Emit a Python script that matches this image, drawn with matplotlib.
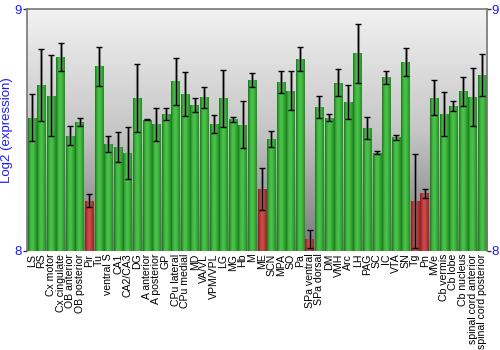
import numpy as np
import matplotlib
matplotlib.use("Agg")
import matplotlib.pyplot as plt
from matplotlib.colors import LinearSegmentedColormap

regions = ["LS", "RS", "Cx motor", "Cx cingulate", "OB anterior", "OB posterior",
           "Pir", "Tu", "ventral S", "CA1", "CA2/CA3", "DG", "A anterior",
           "A posterior", "GP", "CPu lateral", "CPu medial", "MD", "VA/VL",
           "VPM/VPL", "LG", "MG", "Hb", "M", "ME", "SCN", "MPA", "SO", "Pa",
           "SPa ventral", "SPa dorsal", "DM", "VMH", "Arc", "LH", "PAG", "SC",
           "IC", "VTA", "SN", "Tg", "Pn", "MVe", "Cb vermis", "Cb lobe",
           "Cb nucleus", "spinal cord anterior", "spinal cord posterior"]

expression = [8.551, 8.686, 8.642, 8.802, 8.477, 8.534,
              8.207, 8.763, 8.442, 8.430, 8.405, 8.632, 8.543,
              8.523, 8.567, 8.701, 8.649, 8.603, 8.635,
              8.525, 8.631, 8.545, 8.522, 8.707, 8.255, 8.464, 8.698, 8.663, 8.792,
              8.048, 8.594, 8.551, 8.696, 8.616, 8.817, 8.508, 8.406,
              8.718, 8.470, 8.781, 8.207, 8.238, 8.634, 8.566, 8.599,
              8.660, 8.636, 8.727]

std_err = [0.097, 0.150, 0.167, 0.057, 0.040, 0.017,
           0.027, 0.082, 0.033, 0.062, 0.106, 0.140, 0.003,
           0.067, 0.026, 0.097, 0.091, 0.030, 0.042,
           0.036, 0.119, 0.010, 0.096, 0.030, 0.086, 0.034, 0.045, 0.082, 0.050,
           0.037, 0.045, 0.014, 0.057, 0.072, 0.121, 0.046, 0.006,
           0.028, 0.010, 0.058, 0.193, 0.017, 0.072, 0.090, 0.019,
           0.059, 0.119, 0.086]

low_expression = ["Pir", "ME", "SPa ventral", "Tg", "Pn"]

y_min, y_max = 8, 9
blue = "#1a1aff"

plt.rcParams["font.family"] = ["Liberation Sans", "DejaVu Sans"]

fig = plt.figure(figsize=(5, 3.5), dpi=100)
ax = fig.add_axes([0.054, 0.283, 0.920, 0.691])

n = len(regions)
x = np.arange(n)

# vertical grey backdrop, light at top, darker towards the baseline
bg = np.linspace(0, 1, 256).reshape(-1, 1)
bg_cmap = LinearSegmentedColormap.from_list("bg", ["#f2f2f2", "#c6c6c6", "#787878"])
ax.imshow(bg, cmap=bg_cmap, aspect="auto", extent=[-0.5, n - 0.5, y_min, y_max],
          origin="upper", zorder=0, interpolation="bicubic")

# horizontal shading across each bar for a rounded look
shade = np.array([0.0, 0.25, 0.55, 0.75, 0.9, 1.0, 0.95, 0.85, 0.7, 0.5, 0.35, 0.2]).reshape(1, -1)
green_cmap = LinearSegmentedColormap.from_list("g", ["#1f7a1f", "#33a833", "#4cc24c"])
red_cmap = LinearSegmentedColormap.from_list("r", ["#8a2424", "#b03434", "#cc4c4c"])

bars = ax.bar(x, np.array(expression) - y_min, bottom=y_min, width=0.88,
              color="none", edgecolor="none", zorder=2)
for rect, name in zip(bars, regions):
    cm = red_cmap if name in low_expression else green_cmap
    x0, y0 = rect.get_x(), rect.get_y()
    w, h = rect.get_width(), rect.get_height()
    im = ax.imshow(shade, cmap=cm, aspect="auto", extent=[x0, x0 + w, y0, y0 + h],
                   zorder=2, interpolation="bilinear", vmin=0, vmax=1)
    im.set_clip_path(rect)

ax.errorbar(x, expression, yerr=std_err, fmt="none", ecolor="#7a7a7a",
            elinewidth=2.2, capsize=0, zorder=3, alpha=0.6)
ax.errorbar(x, expression, yerr=std_err, fmt="none", ecolor="black",
            elinewidth=1.0, capsize=2.2, capthick=1.0, zorder=4)

ax.set_xlim(-0.5, n - 0.5)
ax.set_ylim(y_min, y_max)

ax.set_xticks(x)
ax.set_xticklabels(regions, rotation=90, fontsize=7.6, color="black")
ax.tick_params(axis="x", length=0, pad=2)

ax.set_yticks([y_min, y_max])
ax.set_yticklabels(["8", "9"], fontsize=9.5, color=blue)
ax.tick_params(axis="y", which="both", left=True, right=True, labelleft=True,
               labelright=True, length=3, width=1, color="#333333", pad=0.5)

ax.set_ylabel("Log2 (expression)", color=blue, fontsize=9.5)
ax.yaxis.set_label_coords(-0.03, 0.5)

for side in ["top", "left", "right"]:
    ax.spines[side].set_color("#777777")
    ax.spines[side].set_linewidth(1.2)
ax.spines["bottom"].set_visible(False)

fig.savefig("out.png", dpi=100)
